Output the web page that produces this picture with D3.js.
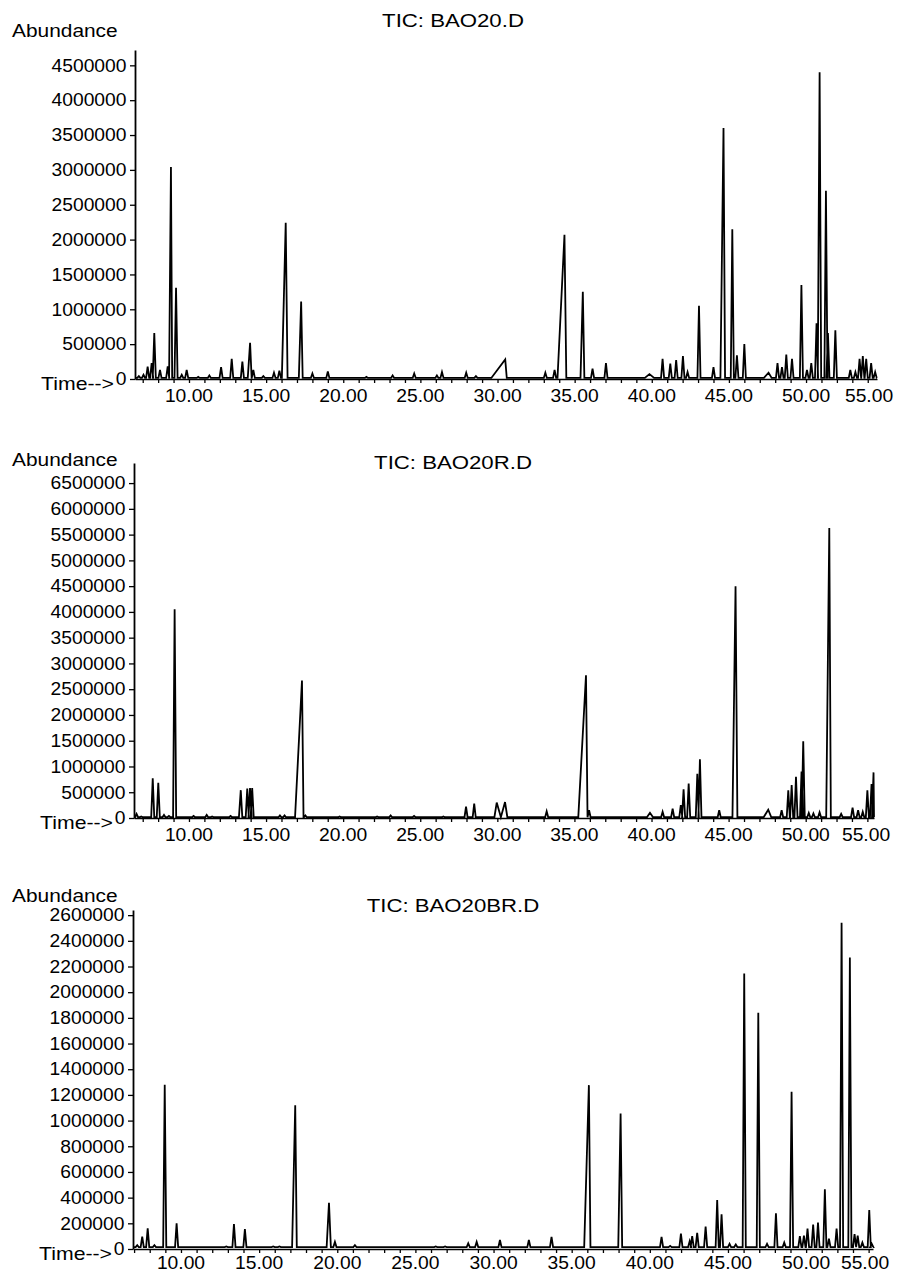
<!DOCTYPE html>
<html>
<head>
<meta charset="utf-8">
<script src="https://cdn.jsdelivr.net/npm/d3@7"></script>
<style>
  body { margin: 0; background: #fff; }
  text { font-family: "Liberation Sans", Arial, sans-serif; fill: #000; }
</style>
</head>
<body>
<svg id="chart"></svg>
<script>
// peaks: [retention time (min), abundance, optional left / right half width (min)]
const peaksBAO20 = [
  [6.75, 40000], [7.05, 60000], [7.32, 176000], [7.58, 230000], [7.75, 660000], [8.12, 130000],
  [8.62, 180000], [8.83, 3040000, 0.12, 0.08], [9.16, 1310000], [9.53, 60000], [9.85, 130000],
  [10.6, 30000], [11.32, 50000], [12.08, 170000], [12.77, 290000], [13.46, 250000],
  [13.96, 520000, 0.15, 0.1], [14.17, 130000], [14.82, 40000], [15.51, 90000], [15.86, 120000],
  [16.27, 2240000, 0.25, 0.12], [17.27, 1110000, 0.15, 0.1], [18.0, 80000], [19.0, 110000],
  [21.5, 30000], [23.2, 50000], [24.6, 80000], [26.07, 50000], [26.4, 100000], [27.97, 90000],
  [28.6, 40000], [30.5, 282000, 0.9, 0.1], [33.1, 90000], [33.7, 130000],
  [34.34, 2070000, 0.45, 0.12], [35.53, 1250000, 0.15, 0.1], [36.16, 150000], [37.03, 230000],
  [39.85, 70000, 0.3, 0.3], [40.7, 290000], [41.2, 220000], [41.58, 270000], [42.02, 330000],
  [42.32, 100000], [43.06, 1050000], [44.0, 170000], [44.65, 3600000, 0.2, 0.1], [45.22, 2150000],
  [45.52, 340000], [46.0, 500000], [47.57, 90000, 0.3, 0.2], [48.15, 230000], [48.44, 170000],
  [48.72, 350000], [49.09, 290000], [49.7, 1350000], [50.06, 130000], [50.34, 230000],
  [50.68, 800000], [50.88, 4400000, 0.12, 0.1], [51.29, 2700000], [51.42, 660000], [51.9, 700000],
  [52.87, 130000], [53.2, 100000], [53.47, 290000], [53.68, 330000], [53.9, 290000],
  [54.22, 230000], [54.48, 100000]
];

const peaksBAO20R = [
  [6.6, 80000], [6.9, 30000], [7.65, 770000], [8.01, 684000], [8.38, 60000], [8.7, 40000],
  [9.07, 4050000], [10.3, 40000], [11.15, 60000], [11.5, 30000], [12.7, 40000],
  [13.36, 540000, 0.12, 0.1], [13.78, 570000], [13.96, 580000], [14.1, 580000], [15.9, 50000],
  [16.2, 50000], [17.33, 2670000, 0.45, 0.1], [17.55, 50000], [19.77, 30000], [22.2, 30000],
  [23.08, 50000], [24.6, 40000], [26.5, 30000], [27.97, 220000], [28.5, 280000],
  [29.96, 300000, 0.15, 0.27], [30.5, 310000, 0.27, 0.15], [33.2, 130000],
  [35.75, 2770000, 0.5, 0.1], [35.95, 150000], [39.9, 100000, 0.2, 0.2], [40.72, 120000],
  [41.37, 180000], [41.9, 250000], [42.08, 555000], [42.41, 670000], [42.97, 860000],
  [43.14, 1140000], [44.39, 150000], [45.45, 4500000, 0.2, 0.12], [47.57, 160000, 0.3, 0.2],
  [48.44, 150000], [48.87, 540000], [49.09, 640000], [49.37, 800000], [49.73, 900000],
  [49.84, 1490000], [50.2, 100000], [50.5, 90000], [50.9, 110000], [51.53, 5630000, 0.2, 0.1],
  [52.3, 80000], [53.04, 200000], [53.4, 150000], [53.7, 120000], [54.0, 540000],
  [54.27, 660000], [54.4, 885000, 0.1, 0.03]
];

const peaksBAO20BR = [
  [7.2, 30000], [7.52, 96000], [7.87, 161000], [8.3, 30000], [8.96, 1280000], [9.72, 200000],
  [10.5, 15000], [12.9, 20000], [13.39, 195000], [14.09, 155000], [15.9, 20000], [16.3, 20000],
  [17.31, 1120000, 0.2, 0.1], [19.47, 360000, 0.15, 0.12], [19.85, 55000], [21.13, 30000],
  [22.5, 15000], [26.3, 20000], [26.9, 20000], [28.38, 44000], [28.92, 55000], [30.41, 70000],
  [32.26, 70000], [33.71, 95000], [36.1, 1276000, 0.3, 0.1], [38.13, 1056000, 0.15, 0.1],
  [40.75, 95000], [41.3, 25000], [41.99, 120000], [42.55, 60000], [42.71, 100000],
  [43.03, 125000], [43.57, 175000], [44.31, 381000], [44.59, 270000], [45.1, 40000],
  [45.5, 35000], [46.04, 2145000], [46.94, 1840000], [47.5, 40000], [48.07, 278000],
  [48.6, 50000], [49.07, 1224000], [49.6, 100000], [49.86, 105000], [50.09, 160000],
  [50.45, 190000], [50.76, 205000], [51.2, 465000], [51.46, 80000], [51.95, 160000],
  [52.27, 2540000], [52.8, 2270000], [53.1, 115000], [53.3, 105000], [53.6, 50000],
  [54.04, 303000], [54.2, 40000]
];

const titles = ["TIC: BAO20.D", "TIC: BAO20R.D", "TIC: BAO20BR.D"];
const yTickMax = [4500000, 6500000, 2600000];
const yTickStep = [500000, 500000, 200000];
const timeLabels = [10, 15, 20, 25, 30, 35, 40, 45, 50, 55];
const baseline = 15000;

const width = 897;
const height = 1274;
const W = 0.1; // default half width of a peak, minutes

const svg = d3.select("#chart").attr("width", width).attr("height", height);

// layout of the three stacked panels
const panels = [
  { peaks: peaksBAO20, xDom: [6.5, 54.6], xRng: [135, 877], yMax: 4720000, yRng: [379, 50], titleY: 27, abundY: 37, labelDy: 23, traceEnd: 54.6 },
  { peaks: peaksBAO20R, xDom: [6.435, 54.43], xRng: [134, 874], yMax: 6890000, yRng: [818, 463], titleY: 469, abundY: 466, labelDy: 23, traceEnd: 54.43 },
  { peaks: peaksBAO20BR, xDom: [6.93, 54.28], xRng: [133, 873], yMax: 2640000, yRng: [1249, 910], titleY: 912, abundY: 902, labelDy: 20, traceEnd: 54.28 }
];

const stretch = "scale(1.07,1)";

panels.forEach((p, i) => {
  const x = d3.scaleLinear().domain(p.xDom).range(p.xRng);
  const y = d3.scaleLinear().domain([0, p.yMax]).range(p.yRng);
  const g = svg.append("g");

  // trace
  const pts = [[p.xDom[0], baseline]];
  p.peaks.forEach(([t, v, wl = W, wr = W]) => {
    pts.push([t - wl, baseline], [t, v], [t + wr, baseline]);
  });
  pts.push([p.traceEnd, baseline]);

  g.append("path")
    .datum(pts)
    .attr("fill", "none")
    .attr("stroke", "#000")
    .attr("stroke-width", 1.8)
    .attr("d", d3.line().x(d => x(d[0])).y(d => y(d[1])));

  // y axis
  const yAxis = g.append("g")
    .attr("transform", `translate(${p.xRng[0]},0)`)
    .call(d3.axisLeft(y)
      .tickValues(d3.range(0, yTickMax[i] + 1, yTickStep[i]))
      .tickSizeInner(5).tickSizeOuter(0).tickPadding(3)
      .tickFormat(d3.format("d")));
  yAxis.select(".domain").attr("stroke-width", 1.8);
  yAxis.selectAll(".tick line").attr("stroke-width", 1.3);
  yAxis.selectAll("text").attr("font-size", 18).attr("transform", stretch);

  // x axis: minor ticks every minute, labels every 5
  const minor = d3.range(Math.ceil(p.xDom[0]), Math.floor(p.xDom[1]) + 1);
  const xAxis = g.append("g")
    .attr("transform", `translate(0,${p.yRng[0]})`)
    .call(d3.axisBottom(x)
      .tickValues(minor)
      .tickSizeInner(4).tickSizeOuter(0)
      .tickFormat(() => ""));
  xAxis.select(".domain").attr("stroke-width", 1.6);
  xAxis.selectAll(".tick line").attr("stroke-width", 1.3);

  const right = p.xRng[1] + 16;
  timeLabels.forEach(t => {
    const half = 24;
    const cx = Math.min(x(t), right - half);
    g.append("text")
      .attr("transform", `translate(${cx},${p.yRng[0] + p.labelDy}) ${stretch}`)
      .attr("text-anchor", "middle")
      .attr("font-size", 18)
      .text(d3.format(".2f")(t));
  });

  // labels
  g.append("text")
    .attr("transform", `translate(${p.xRng[0] - 21},${p.yRng[0] + 11}) scale(1.18,1)`)
    .attr("text-anchor", "end")
    .attr("font-size", 18)
    .text("Time-->");

  g.append("text")
    .attr("transform", `translate(12,${p.abundY}) scale(1.13,1)`)
    .attr("font-size", 18.5)
    .text("Abundance");

  g.append("text")
    .attr("transform", `translate(453,${p.titleY}) scale(1.2,1)`)
    .attr("text-anchor", "middle")
    .attr("font-size", 18.5)
    .text(titles[i]);
});
</script>
</body>
</html>
